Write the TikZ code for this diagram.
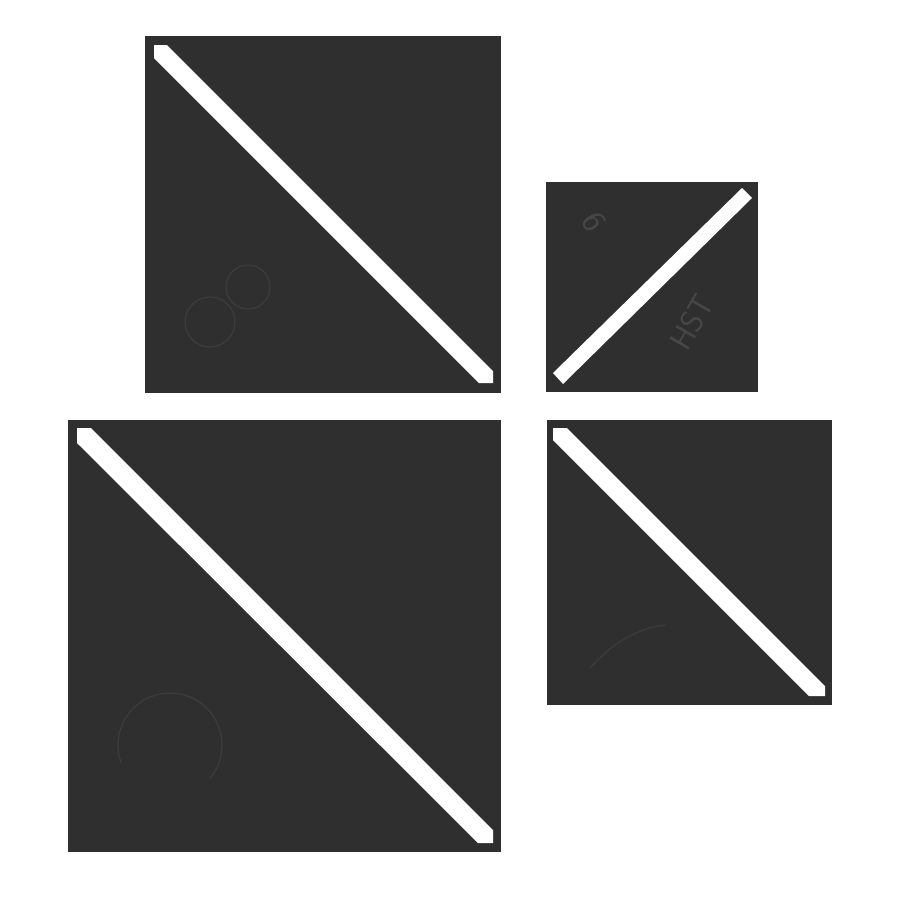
\documentclass[tikz,border=0pt]{standalone}
\usepackage{tikz}
\definecolor{board}{HTML}{2F2F2F}
\definecolor{mark}{HTML}{3C3C3C}
\definecolor{marktext}{HTML}{474747}
\tikzset{
  tile/.style={fill=board, draw=none},
  strip/.style={fill=white, draw=none},
  emboss/.style={draw=mark, line width=1.2pt},
}
\begin{document}
\begin{tikzpicture}[x=1pt,y=-1pt]
\useasboundingbox (0,0) rectangle (900,900);
\fill[white] (0,0) rectangle (900,900);
% tiles
\path[tile] (145,36) rectangle (501,393);
\path[tile] (546,182) rectangle (758,392);
\path[tile] (68,420) rectangle (501,852);
\path[tile] (547,420) rectangle (832,705);
% faint embossed marks
\draw[emboss] (210,322) circle (25);
\draw[emboss] (248,287) circle (22);
\draw[emboss] (170,745) ++(40:52) arc (40:-200:52);
\draw[emboss] (590,668) .. controls (615,640) and (640,628) .. (665,625);
\node[text=marktext, font=\sffamily\fontsize{34}{34}\selectfont, rotate=-60, inner sep=0pt] (m6) at (594,222) {6};
\node[text=marktext, font=\sffamily\fontsize{32}{32}\selectfont, rotate=60, inner sep=0pt] (hst) at (692,322) {HST};
% strips
\path[strip] (154,45) -- (167,45) -- (493,371) -- (493,383) -- (479,383) -- (154,58) -- cycle;
\path[strip] (742,188) -- (752,198) -- (563,384) -- (553,373) -- cycle;
\path[strip] (77,428) -- (91,428) -- (493,830) -- (493,843) -- (478,843) -- (77,443) -- cycle;
\path[strip] (553,428) -- (567,428) -- (825,686) -- (825,696) -- (809,696) -- (553,440) -- cycle;
\end{tikzpicture}
\end{document}
